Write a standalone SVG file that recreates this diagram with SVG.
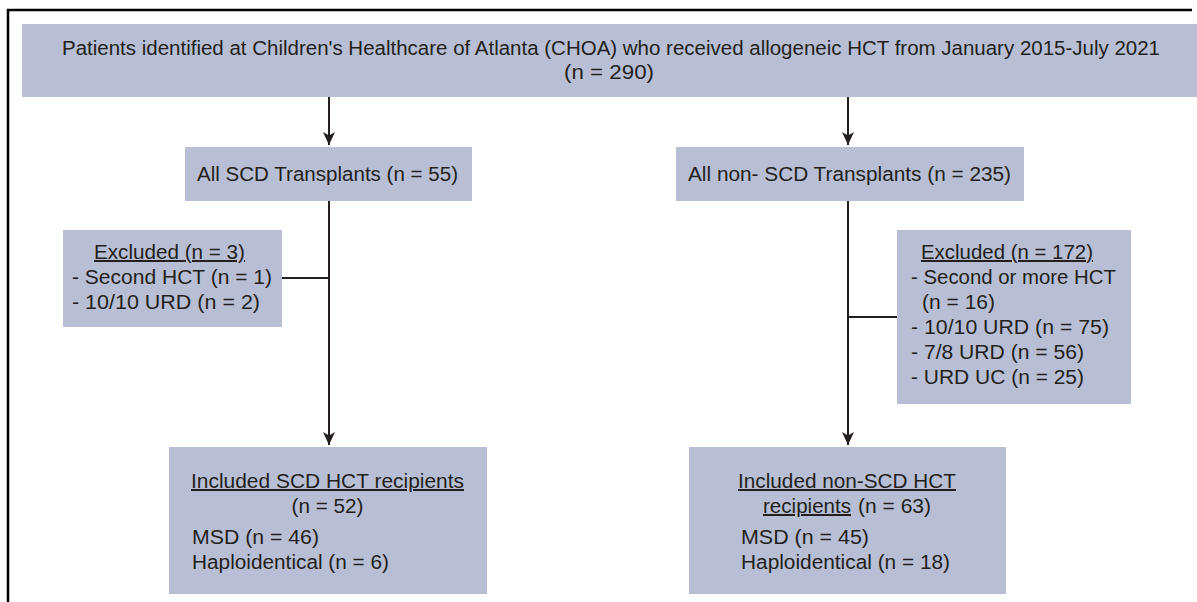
<svg xmlns="http://www.w3.org/2000/svg" width="1197" height="602" viewBox="0 0 1197 602">
<style>
.box{fill:#b8bfd4}
.t{font-family:"Liberation Sans",Arial,sans-serif;font-size:20px;fill:#231f20}
.c{text-anchor:middle}
.u{text-decoration:underline}
.ln{stroke:#231f20;stroke-width:2;fill:none}
</style>
<defs>
<marker id="ah" markerWidth="14" markerHeight="12" refX="13" refY="6" orient="auto" markerUnits="userSpaceOnUse">
<path d="M0,0 L13,6 L0,12 L3.5,6 Z" fill="#231f20"/>
</marker>
</defs>
<rect x="0" y="0" width="1197" height="602" fill="#fff"/>
<path d="M8,602 V10 H1192" stroke="#000" stroke-width="2.5" fill="none"/>
<g id="connectors">
<line class="ln" x1="329" y1="97" x2="329" y2="145" marker-end="url(#ah)"/>
<line class="ln" x1="848" y1="97" x2="848" y2="145" marker-end="url(#ah)"/>
<line class="ln" x1="329" y1="201" x2="329" y2="445" marker-end="url(#ah)"/>
<line class="ln" x1="848" y1="201" x2="848" y2="445" marker-end="url(#ah)"/>
<line class="ln" x1="282" y1="278" x2="329" y2="278"/>
<line class="ln" x1="848" y1="317" x2="897" y2="317"/>
</g>
<g id="top">
<rect class="box" x="22" y="24" width="1175" height="73"/>
<text class="t c" x="611" y="55" textLength="1098" lengthAdjust="spacingAndGlyphs">Patients identified at Children's Healthcare of Atlanta (CHOA) who received allogeneic HCT from January 2015-July 2021</text>
<text class="t c" x="609" y="79" textLength="90" lengthAdjust="spacingAndGlyphs">(n = 290)</text>
</g>
<g id="scd">
<rect class="box" x="185" y="147" width="287" height="54"/>
<text class="t" x="197" y="181" textLength="261" lengthAdjust="spacingAndGlyphs">All SCD Transplants (n = 55)</text>
</g>
<g id="nonscd">
<rect class="box" x="676" y="147" width="348" height="54"/>
<text class="t" x="688" y="181" textLength="323" lengthAdjust="spacingAndGlyphs">All non- SCD Transplants (n = 235)</text>
</g>
<g id="excl-left">
<rect class="box" x="63" y="230" width="219" height="97"/>
<text class="t u" x="94" y="259" textLength="151" lengthAdjust="spacingAndGlyphs">Excluded (n = 3)</text>
<text class="t" x="72" y="284" textLength="200" lengthAdjust="spacingAndGlyphs">- Second HCT (n = 1)</text>
<text class="t" x="72" y="309" textLength="188" lengthAdjust="spacingAndGlyphs">- 10/10 URD (n = 2)</text>
</g>
<g id="excl-right">
<rect class="box" x="897" y="230" width="234" height="174"/>
<text class="t u" x="921" y="259" textLength="172" lengthAdjust="spacingAndGlyphs">Excluded (n = 172)</text>
<text class="t" x="911" y="284" textLength="205" lengthAdjust="spacingAndGlyphs">- Second or more HCT</text>
<text class="t" x="922" y="309" textLength="73" lengthAdjust="spacingAndGlyphs">(n = 16)</text>
<text class="t" x="911" y="334" textLength="198" lengthAdjust="spacingAndGlyphs">- 10/10 URD (n = 75)</text>
<text class="t" x="911" y="359" textLength="173" lengthAdjust="spacingAndGlyphs">- 7/8 URD (n = 56)</text>
<text class="t" x="911" y="384" textLength="173" lengthAdjust="spacingAndGlyphs">- URD UC (n = 25)</text>
</g>
<g id="incl-scd">
<rect class="box" x="169" y="447" width="318" height="147"/>
<text class="t u" x="191" y="488" textLength="273" lengthAdjust="spacingAndGlyphs">Included SCD HCT recipients</text>
<text class="t c" x="327.5" y="513" textLength="72" lengthAdjust="spacingAndGlyphs">(n = 52)</text>
<text class="t" x="192" y="544" textLength="127" lengthAdjust="spacingAndGlyphs">MSD (n = 46)</text>
<text class="t" x="192" y="569" textLength="197" lengthAdjust="spacingAndGlyphs">Haploidentical (n = 6)</text>
</g>
<g id="incl-nonscd">
<rect class="box" x="689" y="447" width="317" height="147"/>
<text class="t u" x="738" y="488" textLength="218" lengthAdjust="spacingAndGlyphs">Included non-SCD HCT</text>
<text class="t u" x="763" y="513" textLength="88" lengthAdjust="spacingAndGlyphs">recipients</text>
<text class="t" x="858" y="513" textLength="73" lengthAdjust="spacingAndGlyphs">(n = 63)</text>
<text class="t" x="741" y="544" textLength="128" lengthAdjust="spacingAndGlyphs">MSD (n = 45)</text>
<text class="t" x="741" y="569" textLength="209" lengthAdjust="spacingAndGlyphs">Haploidentical (n = 18)</text>
</g>
</svg>
